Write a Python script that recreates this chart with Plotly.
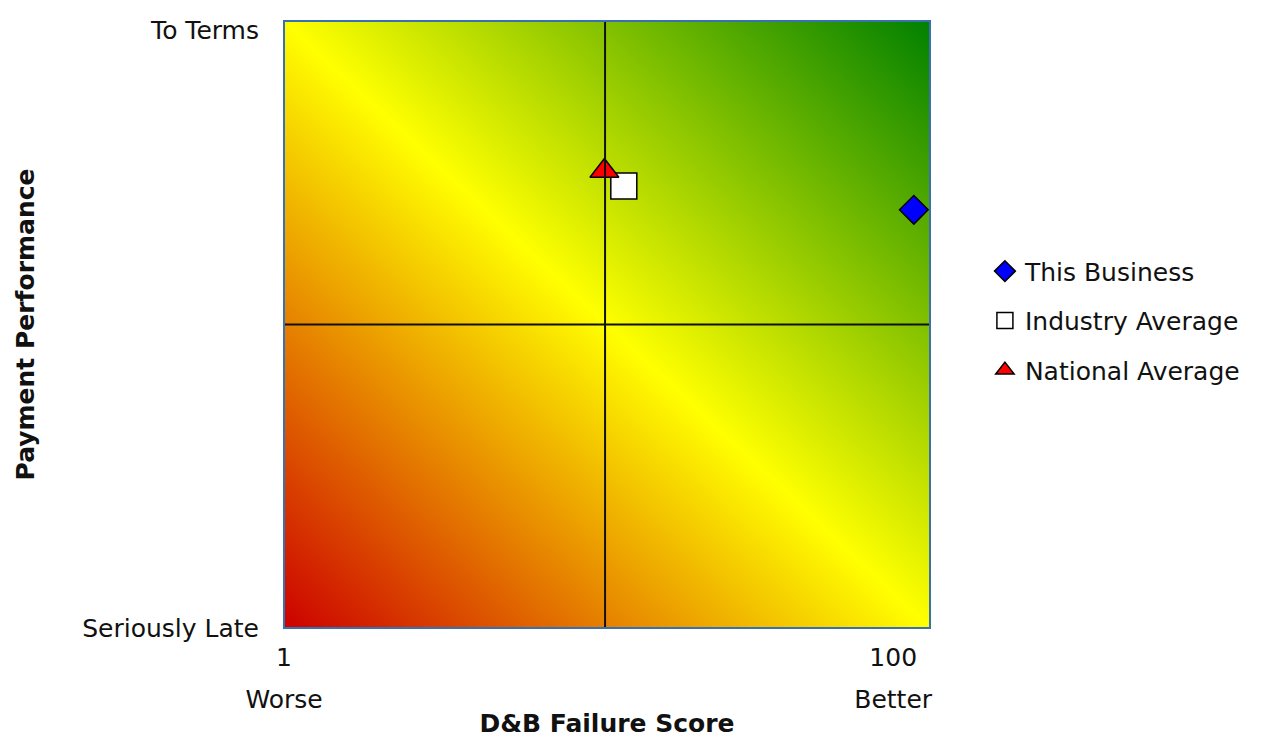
import numpy as np
import plotly.graph_objects as go

# ---- data ----
series_names = ["This Business", "Industry Average", "National Average"]
failure_score = [97.5, 52.6, 49.6]        # x (0..100 scale)
payment_perf = [68.9, 72.8, 75.3]         # y (0..100 scale)
marker_symbols = ["diamond", "square", "triangle-up"]
marker_colors = ["#0000ff", "#ffffff", "#ff0000"]
marker_sizes = [22, 26, 25]

x_tick_vals = [0, 94.3]
x_tick_num = ["1", "100"]
x_tick_words = ["Worse", "Better"]
y_tick_vals = [0, 98.5]
y_tick_text = ["Seriously Late", "To Terms"]
mid_x = 49.7
mid_y = 50

FONT = "DejaVu Sans"
FS = 25

fig = go.Figure()

# background diagonal gradient
gx = np.linspace(0, 100, 41)
gy = np.linspace(0, 100, 41)
gz = gx[None, :] + gy[:, None]
fig.add_trace(go.Heatmap(
    x=gx, y=gy, z=gz, zsmooth="best", showscale=False, hoverinfo="skip",
    zmin=0, zmax=200,
    colorscale=[[0, "#cc0000"], [0.5, "#ffff00"], [1, "#008000"]],
    showlegend=False,
))

for i, name in enumerate(series_names):
    fig.add_trace(go.Scatter(
        x=[failure_score[i]], y=[payment_perf[i]], mode="markers", name=name,
        legendgroup=name,
        marker=dict(symbol=marker_symbols[i], color=marker_colors[i],
                    size=marker_sizes[i], line=dict(color="black", width=1.5)),
    ))

# invisible trace to anchor the secondary x axis (word labels)
fig.add_trace(go.Scatter(x=[mid_x], y=[mid_y], xaxis="x2", mode="markers",
                         marker=dict(opacity=0), showlegend=False, hoverinfo="skip"))

fig.add_shape(type="line", x0=mid_x, x1=mid_x, y0=0, y1=100, xref="x", yref="y",
              line=dict(color="#111111", width=2))
fig.add_shape(type="line", x0=0, x1=100, y0=mid_y, y1=mid_y, xref="x", yref="y",
              line=dict(color="#111111", width=2))
fig.add_shape(type="rect", x0=0, x1=1, y0=0, y1=1, xref="paper", yref="paper",
              line=dict(color="#3a70b0", width=2))

fig.update_layout(
    width=1261, height=732,
    margin=dict(l=276, r=339, t=13, b=112, autoexpand=False),
    paper_bgcolor="white", plot_bgcolor="white",
    font=dict(family=FONT, size=FS, color="#111111"),
    legend=dict(x=1.085, xanchor="left", y=0.506, yanchor="middle",
                traceorder="grouped", tracegroupgap=14,
                font=dict(family=FONT, size=FS, color="#111111"),
                itemsizing="trace"),
    xaxis=dict(range=[0, 100], showgrid=False, zeroline=False, automargin=False,
               tickvals=x_tick_vals, ticktext=x_tick_num,
               ticklabelstandoff=12),
    xaxis2=dict(range=[0, 100], showgrid=False, zeroline=False, automargin=False,
                overlaying="x", side="bottom", anchor="y",
                tickvals=x_tick_vals, ticktext=x_tick_words,
                ticklabelstandoff=54,
                title=dict(text="<b>D&B Failure Score</b>", standoff=1,
                           font=dict(family=FONT, size=FS))),
    yaxis=dict(range=[0, 100], showgrid=False, zeroline=False, automargin=False,
               tickvals=y_tick_vals, ticktext=y_tick_text,
               ticklabelstandoff=24,
               title=dict(text="<b>Payment Performance</b>", standoff=40,
                          font=dict(family=FONT, size=FS))),
)

fig.write_html("out.html")
